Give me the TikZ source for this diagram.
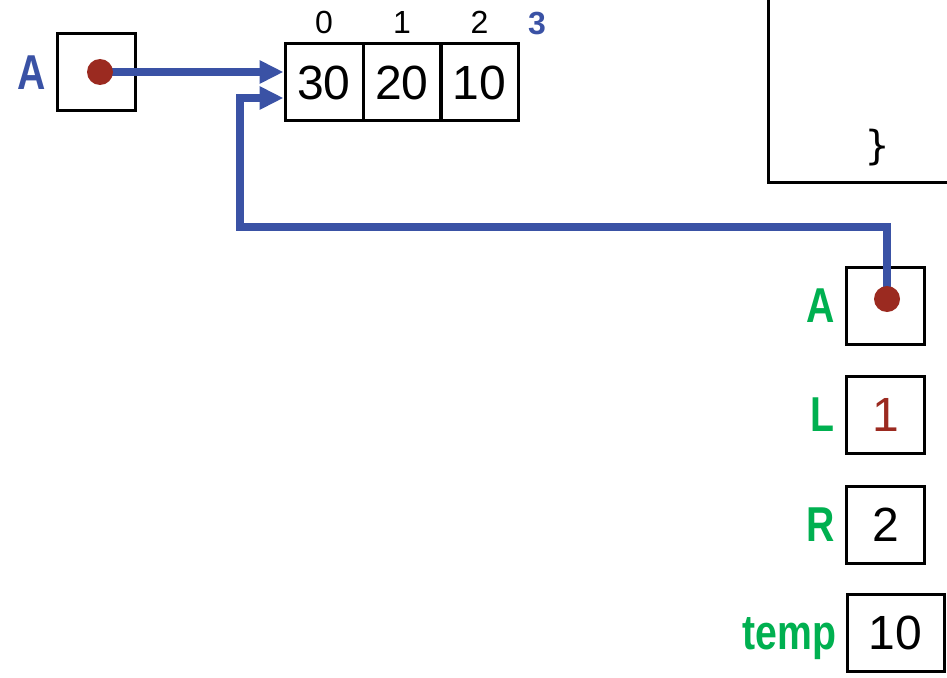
\documentclass[tikz,border=0pt]{standalone}
\usepackage{fontspec}
\setmainfont{Liberation Sans}
\newfontfamily\narrowfont[FakeStretch=0.8]{Liberation Sans}
\newfontfamily\bracefont{DejaVu Sans Mono}
\usetikzlibrary{positioning,arrows.meta}

\definecolor{ptrblue}{RGB}{58,82,165}
\definecolor{dotred}{RGB}{155,42,32}
\definecolor{vargreen}{RGB}{0,176,80}

\tikzset{
  cell/.style={draw, line width=3pt, minimum width=78pt, minimum height=77pt,
    inner sep=0pt, text height=34.5pt, text depth=0pt,
    font=\fontsize{48}{48}\selectfont},
  varname/.style={inner sep=0pt, text=vargreen,
    font=\narrowfont\bfseries\fontsize{49}{49}\selectfont},
  idx/.style={inner sep=0pt, font=\fontsize{32}{32}\selectfont},
  ptr/.style={draw=ptrblue, line width=7.5pt, -{Triangle[length=24pt,width=22pt]}},
  dot/.style={circle, fill=dotred, minimum size=26pt, inner sep=0pt},
}

\begin{document}
\begin{tikzpicture}[x=1pt,y=-1pt]
      \useasboundingbox (0,0) rectangle (947,677);

      % the array and its pointer
      \node[cell] (a1) at (96,72) {};
      \node[varname, text=ptrblue, base left=9pt of a1] (n1) {A};

      \begin{scope}[every node/.style={cell}]
        \node (c0) at (324,82)   {30};
        \node (c1) at (402,82)   {20};
        \node (c2) at (479.5,82) {10};
      \end{scope}

      \begin{scope}[every node/.style={idx}]
        \node[above=8pt of c0] (i0) {0};
        \node[above=8pt of c1] (i1) {1};
        \node[above=8pt of c2] (i2) {2};
        \node[anchor=south, text=ptrblue, font=\bfseries\fontsize{32}{32}\selectfont] (i3) at (537,35) {3};
      \end{scope}

      % frame of the called function
      \draw[line width=3pt] (768,0) -- (768,182) -- (947,182);
      \node[font=\bracefont\fontsize{40}{40}\selectfont] (brace) at (878,148) {\}};

      % local variables
      \node[cell] (a2) at (885.5,305.5) {};
      \node[cell, text=dotred] (l2) at (885.5,414.5) {1};
      \node[cell] (r2) at (885.5,524.5) {2};
      \node[cell, minimum width=97pt] (t2) at (895.5,632.5) {10};

      \node[varname, base left=10pt of a2] (n2) {A};
      \node[varname, base left=10pt of l2] (nl) {L};
      \node[varname, base left=10pt of r2] (nr) {R};
      \node[varname, base left=9pt of t2] (nt) {temp};

      % pointers
      \coordinate (p1) at (100,72);
      \coordinate (p2) at (887,299);
      \coordinate (bend) at (240,227);

      \draw[ptr] (p1) -- ([yshift=10pt]c0.west);
      \draw[ptr] (p2) |- (bend) |- ([yshift=-16pt]c0.west);

      \node[dot] (d1) at (p1) {};
      \node[dot] (d2) at (p2) {};

    \end{tikzpicture}
\end{document}
